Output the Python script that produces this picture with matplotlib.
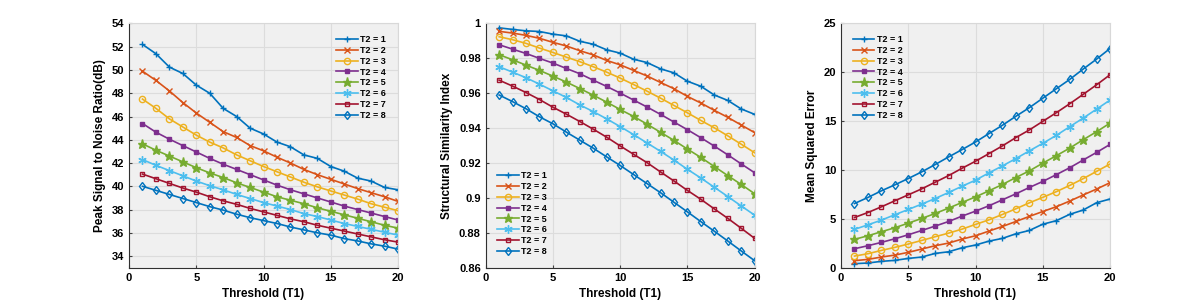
import numpy as np
import matplotlib
matplotlib.use("Agg")
import matplotlib.pyplot as plt

plt.rcParams['font.family'] = ['Liberation Sans', 'DejaVu Sans']
plt.rcParams['font.weight'] = 'bold'

# threshold T1 values
t1 = list(range(1, 21))
labels = ['T2 = %d' % k for k in range(1, 9)]

# PSNR (dB) per T2
psnr = [
    [52.2, 51.4, 50.25, 49.7, 48.7, 48.0, 46.7, 46.0, 45.0, 44.5, 43.8, 43.4, 42.7, 42.4, 41.7, 41.3, 40.7, 40.45, 39.9, 39.7],
    [49.9, 49.1, 48.2, 47.2, 46.3, 45.5, 44.7, 44.2, 43.5, 43.05, 42.5, 42.0, 41.45, 41.0, 40.6, 40.2, 39.8, 39.45, 39.1, 38.7],
    [47.5, 46.7, 45.8, 45.1, 44.4, 43.8, 43.3, 42.7, 42.2, 41.7, 41.25, 40.8, 40.35, 39.95, 39.6, 39.25, 38.9, 38.5, 38.2, 37.9],
    [45.4, 44.65, 44.05, 43.5, 42.95, 42.4, 41.9, 41.45, 41.0, 40.55, 40.1, 39.7, 39.35, 39.0, 38.65, 38.3, 38.0, 37.7, 37.4, 37.1],
    [43.65, 43.1, 42.6, 42.1, 41.6, 41.15, 40.75, 40.3, 39.9, 39.5, 39.1, 38.8, 38.5, 38.15, 37.85, 37.55, 37.25, 36.95, 36.65, 36.4],
    [42.3, 41.8, 41.35, 40.9, 40.45, 40.05, 39.7, 39.3, 38.95, 38.6, 38.3, 38.0, 37.65, 37.4, 37.1, 36.8, 36.55, 36.3, 36.05, 35.8],
    [41.05, 40.65, 40.25, 39.85, 39.5, 39.1, 38.75, 38.45, 38.1, 37.8, 37.5, 37.2, 36.95, 36.65, 36.4, 36.15, 35.9, 35.65, 35.4, 35.2],
    [40.0, 39.65, 39.3, 38.95, 38.6, 38.25, 37.95, 37.6, 37.3, 37.05, 36.8, 36.5, 36.25, 36.0, 35.8, 35.5, 35.3, 35.05, 34.85, 34.6],
]

# SSIM per T2
ssim = [
    [0.9975, 0.9966, 0.9958, 0.9954, 0.9939, 0.9929, 0.9898, 0.9881, 0.9849, 0.9830, 0.9795, 0.9776, 0.9740, 0.9717, 0.9669, 0.9640, 0.9590, 0.9559, 0.9510, 0.9479],
    [0.9955, 0.9945, 0.9932, 0.9915, 0.9892, 0.9871, 0.9844, 0.9820, 0.9788, 0.9763, 0.9731, 0.9699, 0.9662, 0.9626, 0.9582, 0.9544, 0.9502, 0.9462, 0.9418, 0.9374],
    [0.9924, 0.9907, 0.9886, 0.9859, 0.9834, 0.9807, 0.9781, 0.9752, 0.9721, 0.9687, 0.9650, 0.9612, 0.9572, 0.9530, 0.9488, 0.9444, 0.9402, 0.9356, 0.9308, 0.9259],
    [0.9878, 0.9853, 0.9828, 0.9800, 0.9773, 0.9742, 0.9712, 0.9675, 0.9639, 0.9601, 0.9561, 0.9521, 0.9479, 0.9435, 0.9391, 0.9345, 0.9297, 0.9247, 0.9195, 0.9144],
    [0.9821, 0.9792, 0.9761, 0.9731, 0.9698, 0.9664, 0.9627, 0.9589, 0.9549, 0.9507, 0.9467, 0.9423, 0.9376, 0.9330, 0.9280, 0.9232, 0.9180, 0.9128, 0.9077, 0.9024],
    [0.9752, 0.9721, 0.9689, 0.9652, 0.9614, 0.9576, 0.9533, 0.9495, 0.9453, 0.9409, 0.9363, 0.9315, 0.9267, 0.9217, 0.9164, 0.9114, 0.9061, 0.9008, 0.8954, 0.8901],
    [0.9675, 0.9641, 0.9604, 0.9564, 0.9520, 0.9480, 0.9438, 0.9394, 0.9348, 0.9298, 0.9250, 0.9202, 0.9149, 0.9097, 0.9043, 0.8992, 0.8937, 0.8883, 0.8826, 0.8768],
    [0.9590, 0.9552, 0.9511, 0.9465, 0.9425, 0.9377, 0.9331, 0.9285, 0.9235, 0.9186, 0.9134, 0.9082, 0.9030, 0.8975, 0.8920, 0.8864, 0.8809, 0.8753, 0.8696, 0.8640],
]

# MSE per T2
mse = [
    [0.41, 0.48, 0.65, 0.75, 0.95, 1.09, 1.46, 1.63, 2.04, 2.32, 2.72, 3.0, 3.47, 3.81, 4.45, 4.81, 5.46, 5.9, 6.65, 7.03],
    [0.72, 0.85, 1.09, 1.29, 1.57, 1.91, 2.25, 2.52, 2.93, 3.27, 3.75, 4.22, 4.73, 5.25, 5.75, 6.24, 6.82, 7.44, 8.05, 8.7],
    [1.19, 1.43, 1.77, 2.08, 2.42, 2.79, 3.17, 3.54, 3.95, 4.43, 4.9, 5.45, 6.03, 6.64, 7.2, 7.78, 8.42, 9.11, 9.86, 10.61],
    [1.94, 2.25, 2.59, 2.96, 3.37, 3.81, 4.26, 4.73, 5.28, 5.79, 6.34, 6.95, 7.56, 8.21, 8.83, 9.52, 10.23, 11.02, 11.8, 12.62],
    [2.9, 3.27, 3.68, 4.09, 4.56, 5.04, 5.55, 6.1, 6.68, 7.25, 7.87, 8.52, 9.23, 9.91, 10.7, 11.46, 12.24, 13.1, 13.92, 14.8],
    [3.92, 4.39, 4.87, 5.42, 5.96, 6.51, 7.08, 7.7, 8.34, 8.96, 9.71, 10.42, 11.17, 11.96, 12.73, 13.54, 14.43, 15.31, 16.23, 17.16],
    [5.14, 5.65, 6.23, 6.85, 7.46, 8.07, 8.75, 9.43, 10.18, 10.9, 11.68, 12.47, 13.32, 14.1, 14.98, 15.86, 16.78, 17.74, 18.72, 19.75],
    [6.57, 7.19, 7.87, 8.48, 9.13, 9.81, 10.56, 11.34, 12.09, 12.87, 13.73, 14.58, 15.5, 16.38, 17.35, 18.31, 19.27, 20.33, 21.35, 22.44],
]

colors = ['#0072BD', '#D95319', '#EDB120', '#7E2F8E', '#77AC30', '#4DBEEE', '#A2142F', '#0072BD']
markers = ['+', 'x', 'o', 's', '*', (6, 2, 0), 's', 'd']
filled = [True, True, False, True, True, True, False, False]
msizes = [5, 4, 4.5, 3.5, 6.5, 6, 3.5, 4.5]

fig = plt.figure(figsize=(11.96, 3.02), dpi=100)

panels = [
    (0.1079, psnr, 'Peak Signal to Noise Ratio(dB)', (33, 54), np.arange(34, 55, 2),
     [str(v) for v in range(34, 55, 2)], 'upper right'),
    (0.4061, ssim, 'Structural Similarity Index', (0.86, 1.0), np.arange(0.86, 1.001, 0.02),
     ['0.86', '0.88', '0.9', '0.92', '0.94', '0.96', '0.98', '1'], 'lower left'),
    (0.7032, mse, 'Mean Squared Error', (0, 25), np.arange(0, 26, 5),
     [str(v) for v in range(0, 26, 5)], 'upper left'),
]

for left, data, ylabel, ylim, yticks, yticklabels, loc in panels:
    ax = fig.add_axes([left, 0.1136, 0.2249, 0.8086])
    ax.set_facecolor('#f0f0f0')
    for i in range(8):
        mfc = colors[i] if filled[i] else 'none'
        ax.plot(t1, data[i], color=colors[i], lw=1.2, marker=markers[i],
                markersize=msizes[i], markerfacecolor=mfc, markeredgecolor=colors[i],
                markeredgewidth=1.0, label=labels[i])
    ax.set_xlim(0, 20)
    ax.set_ylim(*ylim)
    ax.set_xticks([0, 5, 10, 15, 20])
    ax.set_yticks(yticks)
    ax.set_yticklabels(yticklabels)
    ax.grid(True, color='#dcdcdc', lw=0.8)
    ax.set_axisbelow(True)
    ax.tick_params(labelsize=8, length=2, direction='in', color='#404040')
    for s in ['top', 'right']:
        ax.spines[s].set_color('#d8d8d8')
    for s in ['left', 'bottom']:
        ax.spines[s].set_color('#303030')
    ax.set_xlabel('Threshold (T1)', fontsize=8.5, fontweight='bold')
    ax.set_ylabel(ylabel, fontsize=8.5, fontweight='bold')
    leg = ax.legend(loc=loc, frameon=False, fontsize=6.5, handlelength=2.4,
                    labelspacing=0.2, handletextpad=0.25, borderaxespad=0.9)
    for t in leg.get_texts():
        t.set_fontweight('bold')

fig.savefig('out.png', dpi=100)
